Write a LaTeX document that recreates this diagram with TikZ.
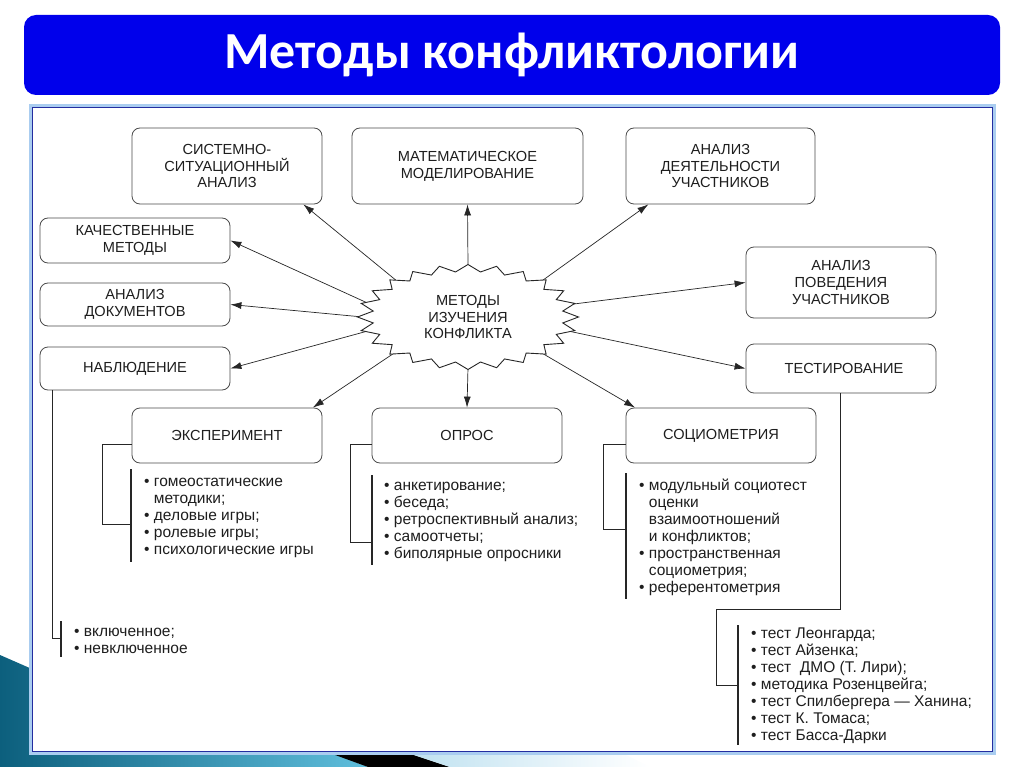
\documentclass[tikz,border=0pt]{standalone}
\usepackage{fontspec}
\setmainfont{Liberation Sans}
\newfontfamily\titlefont{Carlito}
\usetikzlibrary{arrows.meta,shapes.geometric,calc}
\definecolor{bannerblue}{RGB}{0,0,235}
\definecolor{framedark}{RGB}{35,45,160}
\definecolor{framelight}{RGB}{170,205,240}
\definecolor{ink}{RGB}{30,30,30}
\definecolor{tealdark}{RGB}{12,95,125}
\definecolor{teallight}{RGB}{95,190,220}
\definecolor{palecyan}{RGB}{190,225,240}
\newcommand\lbul{•\ }
\newcommand\lind{\hphantom{•\ }}
\begin{document}
\begin{tikzpicture}[x=1pt,y=-1pt,
  box/.style={draw=black!70, line width=0.8pt, rounded corners=8pt, align=center,
    font=\fontsize{14.6}{16.8}\selectfont, text=ink, inner sep=0pt},
  arr/.style={draw=black!85, line width=0.7pt, -{Latex[length=11pt,width=7pt]}},
  bracket/.style={draw=black!85, line width=0.8pt},
  listbar/.style={draw=black!85, line width=1.2pt},
  listtxt/.style={anchor=north west, align=left, inner sep=0pt,
    font=\fontsize{15.5}{17}\selectfont, text=ink},
  startxt/.style={align=center, inner sep=0pt, font=\fontsize{14.6}{16.5}\selectfont, text=ink}]

\useasboundingbox (0,0) rectangle (1024,767);
\fill[white] (0,0) rectangle (1024,767);

% decoration bottom-left
\shade[left color=tealdark, right color=teallight]
  (0,655) -- (32,669) -- (32,752) -- (328,752) -- (368,767) -- (0,767) -- cycle;
\fill[black] (327,752) -- (405,752) -- (450,767) -- (368,767) -- cycle;
\shade[left color=palecyan, right color=white]
  (405,752) -- (620,752) -- (650,767) -- (450,767) -- cycle;

% banner
\fill[bannerblue, rounded corners=12pt] (24,15) rectangle (1000,95);
\node[font=\titlefont\bfseries\fontsize{52}{54}\selectfont, text=white, anchor=base, inner sep=0pt]
  (title) at (512,69) {Методы конфликтологии};

% frame
\draw[framelight, line width=3pt, fill=white] (30.5,105.5) rectangle (994.5,753.5);
\draw[framedark, line width=1.6pt] (32.5,107.5) rectangle (992.5,751.5);

% boxes
\node[box, minimum width=190pt, minimum height=76pt] (sys) at (227,166) {СИСТЕМНО-\\СИТУАЦИОННЫЙ\\АНАЛИЗ};
\node[box, minimum width=231pt, minimum height=76pt] (math) at (467.5,166) {МАТЕМАТИЧЕСКОЕ\\МОДЕЛИРОВАНИЕ};
\node[box, minimum width=189pt, minimum height=76pt] (deyat) at (720.5,166) {АНАЛИЗ\\ДЕЯТЕЛЬНОСТИ\\УЧАСТНИКОВ};
\node[box, minimum width=190pt, minimum height=45pt] (kach) at (135,240.5) {КАЧЕСТВЕННЫЕ\\МЕТОДЫ};
\node[box, minimum width=190pt, minimum height=43pt] (dok) at (135,304.5) {АНАЛИЗ\\ДОКУМЕНТОВ};
\node[box, minimum width=190pt, minimum height=43pt] (nabl) at (135,368.5) {НАБЛЮДЕНИЕ};
\node[box, minimum width=190pt, minimum height=71pt] (pov) at (841,282.5) {АНАЛИЗ\\ПОВЕДЕНИЯ\\УЧАСТНИКОВ};
\node[box, minimum width=190pt, minimum height=49pt] (test) at (841,368.5) {\hspace{6pt}ТЕСТИРОВАНИЕ};
\node[box, minimum width=190pt, minimum height=55pt] (exp) at (227,435.5) {ЭКСПЕРИМЕНТ};
\node[box, minimum width=190pt, minimum height=55pt] (opros) at (467,435.5) {ОПРОС};
\node[box, minimum width=190pt, minimum height=55pt] (socio) at (721,435.5) {СОЦИОМЕТРИЯ};

% star anchor node
\node[ellipse, minimum width=210pt, minimum height=100pt, inner sep=0pt] (star) at (468,317) {};

% arrows
\draw[arr] (star.153.7) -- ($(sys.south west)!0.9!(sys.south east)$);
\draw[arr] (star.90) -- (math.south);
\draw[arr] (star.26.6) -- ($(deyat.south west)!0.12!(deyat.south east)$);
\draw[arr] (star.172.5) -- (kach.east);
\draw[arr] (star.180) -- (dok.east);
\draw[arr] (star.188) -- (nabl.east);
\draw[arr] (star.206.9) -- ($(exp.north west)!0.95!(exp.north east)$);
\draw[arr] (star.270) -- (opros.north);
\draw[arr] (star.334) -- ($(socio.north west)!0.05!(socio.north east)$);
\draw[arr] (star.7) -- (pov.west);
\draw[arr] (star.352) -- (test.west);

% zigzag star
\draw[fill=white, draw=black!85, line width=0.9pt, line join=miter]
  plot[samples=49, domain=0:48]
  ({468 + 110.5*(1 - 0.135*mod(round(\x),2))*cos(7.5*\x)},
   {317 + 52.5*(1 - 0.135*mod(round(\x),2))*sin(7.5*\x)}) -- cycle;
\node[startxt] (startext) at (star.center) {МЕТОДЫ\\ИЗУЧЕНИЯ\\КОНФЛИКТА};

% lists
\node[listtxt] (explist) at (144,473.9) {\strut\lbul гомеостатические\\\lind методики;\\\lbul деловые игры;\\\lbul ролевые игры;\\\lbul психологические игры};
\node[listtxt] (oproslist) at (384,477.9) {\strut\lbul анкетирование;\\\lbul беседа;\\\lbul ретроспективный анализ;\\\lbul самоотчеты;\\\lbul биполярные опросники};
\node[listtxt] (sociolist) at (639,477.9) {\strut\lbul модульный социотест\\\lind оценки\\\lind взаимоотношений\\\lind и конфликтов;\\\lbul пространственная\\\lind социометрия;\\\lbul референтометрия};
\node[listtxt] (nabllist) at (74,623.9) {\strut\lbul включенное;\\\lbul невключенное};
\node[listtxt] (testlist) at (751,625.9) {\strut\lbul тест Леонгарда;\\\lbul тест Айзенка;\\\lbul тест \ ДМО (Т. Лири);\\\lbul методика Розенцвейга;\\\lbul тест Спилбергера — Ханина;\\\lbul тест К. Томаса;\\\lbul тест Басса-Дарки};

% list bars
\coordinate (expbarT) at (131,469);   \coordinate (expbarB) at (131,562);
\coordinate (opbarT) at (372,475);    \coordinate (opbarB) at (372,565);
\coordinate (sobarT) at (626,473);    \coordinate (sobarB) at (626,599);
\coordinate (nbbarT) at (61,621);     \coordinate (nbbarB) at (61,657);
\coordinate (tsbarT) at (738,625);    \coordinate (tsbarB) at (738,745);
\draw[listbar] (expbarT) -- (expbarB);
\draw[listbar] (opbarT) -- (opbarB);
\draw[listbar] (sobarT) -- (sobarB);
\draw[listbar] (nbbarT) -- (nbbarB);
\draw[listbar] (tsbarT) -- (tsbarB);

% brackets
\coordinate (expj) at (131,524);
\coordinate (opj) at (372,542);
\coordinate (soj) at (626,529);
\coordinate (nbj) at (61,638);
\coordinate (tsj) at (738,685);
\draw[bracket] ($(exp.south west)!0.345!(exp.north west)$) -- ++(-29,0) |- (expj);
\draw[bracket] ($(opros.south west)!0.345!(opros.north west)$) -- ++(-21,0) |- (opj);
\draw[bracket] ($(socio.south west)!0.345!(socio.north west)$) -- ++(-22,0) |- (soj);
\draw[bracket] ($(nabl.south west)+(13,0)$) |- (nbj);
\draw[bracket] ($(test.south)+(-1,0)$) -- ++(0,216) -- ++(-124,0) |- (tsj);
\end{tikzpicture}
\end{document}
